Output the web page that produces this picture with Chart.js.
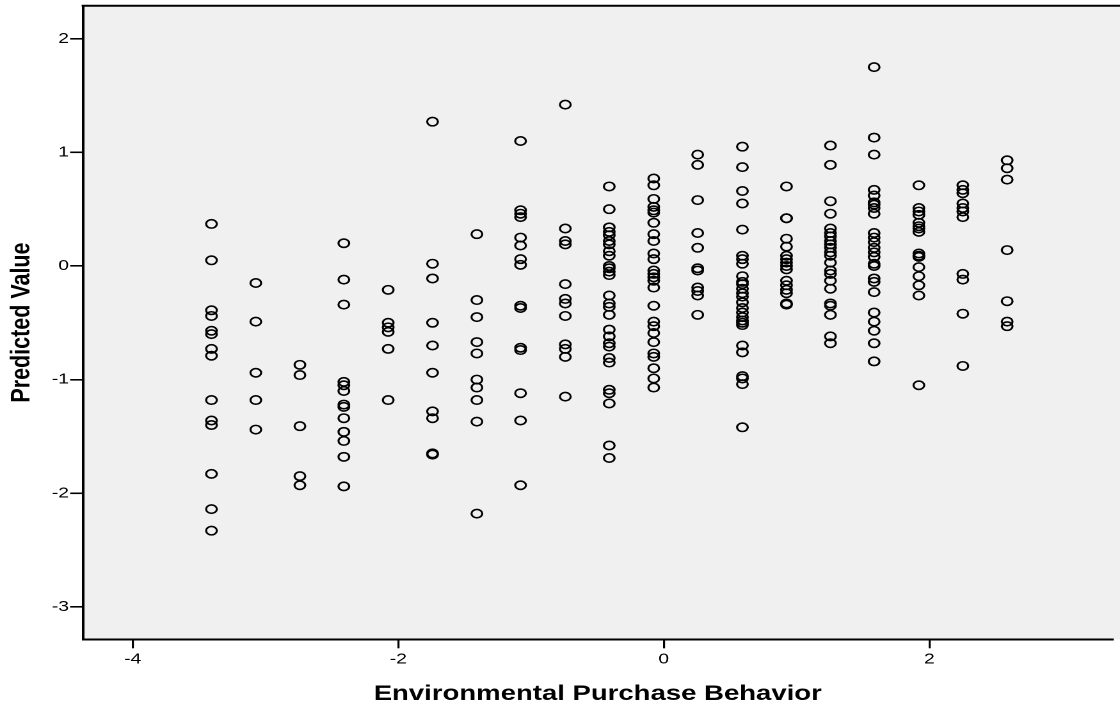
<!DOCTYPE html>
<html><head><meta charset="utf-8">
<script src="https://cdn.jsdelivr.net/npm/chart.js@4.4.1/dist/chart.umd.min.js"></script>
<style>
html,body{margin:0;padding:0;background:#fff;overflow:hidden;width:1120px;height:709px}
#wrap{width:875px;height:709px;transform:scaleX(1.28);transform-origin:0 0}
canvas{display:block}
</style></head><body>
<div id="wrap"><canvas id="c" width="875" height="709"></canvas></div>
<script>
// Environmental Purchase Behavior levels (x) and predicted values (y) at each level
const xLevels = [-3.407, -3.073, -2.741, -2.410, -2.076, -1.742, -1.408, -1.079, -0.742, -0.411, -0.076, 0.255, 0.592, 0.924, 1.255, 1.584, 1.921, 2.252, 2.586];
const yAtLevel01 = [0.37, 0.05, -0.39, -0.44, -0.57, -0.60, -0.73, -0.79, -1.18, -1.36, -1.40, -1.83, -2.14, -2.33];
const yAtLevel02 = [-0.15, -0.49, -0.94, -1.18, -1.44];
const yAtLevel03 = [-0.87, -0.96, -1.41, -1.85, -1.93];
const yAtLevel04 = [0.20, -0.12, -0.34, -1.02, -1.05, -1.10, -1.22, -1.24, -1.34, -1.46, -1.54, -1.68, -1.94];
const yAtLevel05 = [-0.21, -0.50, -0.54, -0.58, -0.73, -1.18];
const yAtLevel06 = [1.27, 0.02, -0.11, -0.50, -0.70, -0.94, -1.28, -1.34, -1.65, -1.66];
const yAtLevel07 = [0.28, -0.30, -0.45, -0.67, -0.77, -1.00, -1.07, -1.18, -1.37, -2.18];
const yAtLevel08 = [1.10, 0.49, 0.46, 0.43, 0.25, 0.18, 0.06, 0.01, -0.35, -0.37, -0.72, -0.74, -1.12, -1.36, -1.93];
const yAtLevel09 = [1.42, 0.33, 0.22, 0.19, -0.16, -0.29, -0.33, -0.44, -0.69, -0.73, -0.80, -1.15];
const yAtLevel10 = [0.70, 0.50, 0.34, 0.30, 0.27, 0.22, 0.19, 0.13, 0.09, 0.00, -0.02, -0.05, -0.08, -0.26, -0.33, -0.36, -0.43, -0.56, -0.62, -0.68, -0.71, -0.81, -0.85, -1.09, -1.12, -1.21, -1.58, -1.69];
const yAtLevel11 = [0.77, 0.71, 0.59, 0.52, 0.49, 0.47, 0.38, 0.28, 0.22, 0.11, 0.06, -0.04, -0.07, -0.10, -0.13, -0.19, -0.35, -0.49, -0.53, -0.59, -0.67, -0.77, -0.80, -0.90, -0.99, -1.07];
const yAtLevel12 = [0.98, 0.89, 0.58, 0.29, 0.16, -0.02, -0.04, -0.19, -0.22, -0.26, -0.43];
const yAtLevel13 = [1.05, 0.87, 0.66, 0.55, 0.32, 0.09, 0.06, 0.02, -0.09, -0.14, -0.16, -0.20, -0.24, -0.27, -0.32, -0.37, -0.41, -0.45, -0.48, -0.50, -0.52, -0.70, -0.76, -0.97, -0.99, -1.04, -1.42];
const yAtLevel14 = [0.70, 0.42, 0.42, 0.24, 0.17, 0.09, 0.06, 0.03, 0.00, -0.03, -0.13, -0.17, -0.21, -0.24, -0.33, -0.34];
const yAtLevel15 = [1.06, 0.89, 0.57, 0.46, 0.33, 0.29, 0.26, 0.22, 0.19, 0.16, 0.12, 0.09, 0.03, -0.04, -0.07, -0.13, -0.20, -0.33, -0.35, -0.43, -0.62, -0.68];
const yAtLevel16 = [1.75, 1.13, 0.98, 0.67, 0.62, 0.56, 0.54, 0.51, 0.46, 0.29, 0.25, 0.21, 0.16, 0.12, 0.08, 0.02, 0.00, -0.11, -0.14, -0.23, -0.41, -0.49, -0.57, -0.68, -0.84];
const yAtLevel17 = [0.71, 0.51, 0.48, 0.45, 0.38, 0.35, 0.33, 0.30, 0.11, 0.09, 0.08, -0.01, -0.09, -0.17, -0.26, -1.05];
const yAtLevel18 = [0.71, 0.67, 0.64, 0.55, 0.51, 0.48, 0.43, -0.07, -0.12, -0.42, -0.88];
const yAtLevel19 = [0.93, 0.86, 0.76, 0.14, -0.31, -0.49, -0.53];

const xTicks = [-4, -2, 0, 2];
const yTicks = [-3, -2, -1, 0, 1, 2];
const xTitle = 'Environmental Purchase Behavior';
const yTitle = 'Predicted Value';

const yByLevel = [yAtLevel01, yAtLevel02, yAtLevel03, yAtLevel04, yAtLevel05, yAtLevel06, yAtLevel07, yAtLevel08, yAtLevel09, yAtLevel10,
  yAtLevel11, yAtLevel12, yAtLevel13, yAtLevel14, yAtLevel15, yAtLevel16, yAtLevel17, yAtLevel18, yAtLevel19];
const points = [];
xLevels.forEach((x, i) => yByLevel[i].forEach(y => points.push({x: x, y: y})));

const FAM = "'Liberation Sans', Arial, Helvetica, sans-serif";

const plotFrame = {
  id: 'plotFrame',
  beforeDraw(chart) {
    const {ctx, chartArea: a} = chart;
    ctx.save();
    ctx.fillStyle = '#f0f0f0';
    ctx.fillRect(a.left, a.top, chart.width - a.left + 5, a.bottom - a.top);
    ctx.restore();
  },
  afterDraw(chart) {
    const {ctx, chartArea: a} = chart;
    ctx.save();
    ctx.strokeStyle = '#000';
    ctx.lineWidth = 2;
    ctx.beginPath();
    ctx.moveTo(a.left - 1, a.top);
    ctx.lineTo(chart.width + 5, a.top);
    ctx.stroke();
    ctx.restore();
  }
};

new Chart(document.getElementById('c'), {
  type: 'scatter',
  data: {
    datasets: [{
      data: points,
      pointStyle: 'circle',
      pointRadius: 4.2,
      pointHoverRadius: 4.2,
      borderWidth: 1.6,
      borderColor: '#000',
      backgroundColor: 'rgba(0,0,0,0)'
    }]
  },
  options: {
    responsive: false,
    animation: false,
    devicePixelRatio: 2,
    layout: {padding: {top: 3, left: 0, right: 0, bottom: 0}},
    plugins: {legend: {display: false}, tooltip: {enabled: false}},
    scales: {
      x: {
        type: 'linear',
        min: -4.375,
        max: 3.38,
        afterBuildTicks: s => { s.ticks = xTicks.map(v => ({value: v})); },
        afterFit: s => { s.height = 69.7; s.paddingLeft = 0; s.paddingRight = 0; },
        grid: {display: true, drawOnChartArea: false, drawTicks: true, tickLength: 9, color: '#000', lineWidth: 1.6},
        border: {display: true, color: '#000', width: 2},
        ticks: {color: '#000', font: {size: 15, family: FAM}, padding: 2, maxRotation: 0, autoSkip: false},
        title: {display: true, text: xTitle, color: '#000', font: {size: 21.5, weight: 'bold', family: FAM}, padding: {top: 0, bottom: 2}}
      },
      y: {
        type: 'linear',
        min: -3.286,
        max: 2.29,
        afterBuildTicks: s => { s.ticks = yTicks.map(v => ({value: v})); },
        afterFit: s => { s.width = 64.8; s.paddingTop = 0; s.paddingBottom = 0; },
        grid: {display: true, drawOnChartArea: false, drawTicks: true, tickLength: 10, color: '#000', lineWidth: 1.6},
        border: {display: true, color: '#000', width: 2},
        ticks: {color: '#000', font: {size: 15, family: FAM}, padding: 1, autoSkip: false},
        title: {display: true, text: yTitle, color: '#000', font: {size: 21.5, weight: 'bold', family: FAM}, padding: {top: 4, bottom: 0}}
      }
    }
  },
  plugins: [plotFrame]
});
</script>
</body></html>
